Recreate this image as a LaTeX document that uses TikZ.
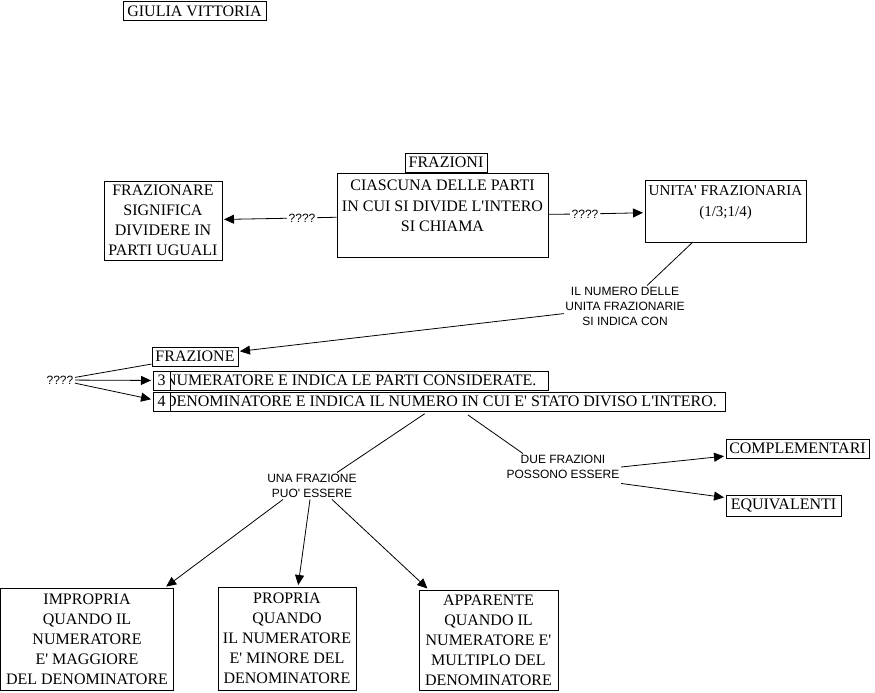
\documentclass[tikz,border=0pt]{standalone}
\usepackage{fontspec}
\setmainfont{Liberation Serif}[Ligatures=TeXOff]
\newfontfamily\arialf{Liberation Sans}
\usetikzlibrary{arrows.meta}
\begin{document}
\begin{tikzpicture}[x=1pt,y=-1pt,
  box/.style={draw=black,line width=1pt,rectangle,inner sep=0pt,align=center,font=\fontsize{16}{20}\selectfont},
  boxtext/.style={inner sep=0pt,align=center,font=\fontsize{16}{20.5}\selectfont},
  longbox/.style={box,inner xsep=1.5pt,anchor=west,minimum height=19pt},
  lbl/.style={inner sep=1.5pt,align=center,font=\arialf\fontsize{12}{15}\selectfont},
  conn/.style={line width=0.8pt},
  arr/.style={conn,-{Triangle[length=10pt,width=9pt]},shorten >=1.5pt}]
\useasboundingbox (0,0) rectangle (875,693);
% boxes
\node[box, minimum width=143pt, minimum height=19pt] (giulia) at (194.5,11.5) {GIULIA VITTORIA};
\node[box, minimum width=82pt, minimum height=19pt] (frazioni) at (446,162.5) {FRAZIONI};
\node[box, minimum width=211pt, minimum height=84pt] (ciascuna) at (442.5,215) {};
\node[boxtext, anchor=north] (ciascunaT) at ([yshift=-7.5pt]ciascuna.north) {CIASCUNA DELLE PARTI\\IN CUI SI DIVIDE L'INTERO\\SI CHIAMA};
\node[box, minimum width=118pt, minimum height=79pt] (frazionare) at (163,220.5) {FRAZIONARE\\SIGNIFICA\\DIVIDERE IN\\PARTI UGUALI};
\node[box, minimum width=161pt, minimum height=62pt] (unita) at (725.5,211) {};
\node[boxtext, anchor=north, font=\fontsize{15}{21}\selectfont] (unitaT) at ([yshift=-5.5pt]unita.north) {UNITA' FRAZIONARIA\\(1/3;1/4)};
\node[box, minimum width=86pt, minimum height=19pt] (frazione) at (195,356.5) {FRAZIONE};
\node[longbox] (num) at (163,380.5) {\makebox[382pt][l]{NUMERATORE E INDICA LE PARTI CONSIDERATE.}};
\node[box, fill=white, minimum width=17pt, minimum height=19pt] (b3) at (161.5,380.5) {3};
\node[longbox] (den) at (163,401.5) {\makebox[559pt][l]{DENOMINATORE E INDICA IL NUMERO IN CUI E' STATO DIVISO L'INTERO.}};
\node[box, fill=white, minimum width=17pt, minimum height=19pt] (b4) at (161.5,401.5) {4};
\node[box, minimum width=143pt, minimum height=19pt] (compl) at (797.5,448.5) {COMPLEMENTARI};
\node[box, minimum width=115pt, minimum height=21pt] (equiv) at (783.5,505.5) {EQUIVALENTI};
\node[box, minimum width=173pt, minimum height=102pt] (impropria) at (87,639) {IMPROPRIA\\QUANDO IL\\NUMERATORE\\E' MAGGIORE\\DEL DENOMINATORE};
\node[box, minimum width=138pt, minimum height=103pt] (propria) at (287,638.5) {PROPRIA\\QUANDO\\IL NUMERATORE\\E' MINORE DEL\\DENOMINATORE};
\node[box, minimum width=139pt, minimum height=100pt] (apparente) at (488.5,640) {APPARENTE\\QUANDO IL\\NUMERATORE E'\\MULTIPLO DEL\\DENOMINATORE};
% linking phrases
\node[lbl] (q1) at (302,218) {????};
\node[lbl] (q2) at (585,214) {????};
\node[lbl] (numl) at (625,306.5) {IL NUMERO DELLE\\UNITA FRAZIONARIE\\SI INDICA CON};
\node[lbl] (q3) at (60,380) {????};
\node[lbl] (una) at (312,486) {UNA FRAZIONE\\PUO' ESSERE};
\node[lbl] (due) at (563,467) {DUE FRAZIONI\\POSSONO ESSERE};
% connectors
\draw[conn] (ciascuna) -- (q1);
\draw[arr] (q1) -- (frazionare);
\draw[conn] (ciascuna) -- (q2);
\draw[arr] (q2) -- (unita);
\draw[conn] (unita) -- (numl);
\draw[arr] (numl) -- (frazione);
\draw[conn] (q3) -- (frazione);
\draw[arr] (q3) -- (b3);
\draw[arr] (q3) -- (b4);
\draw[conn,shorten <=4pt] ([xshift=265pt]den.south west) -- ([xshift=25pt]una.north);
\draw[conn,shorten <=6pt] ([xshift=300pt]den.south west) -- ([xshift=-40pt]due.north);
\draw[arr] (due.east) -- (compl);
\draw[arr] ([yshift=-3pt]due.south east) -- (equiv);
\draw[arr] ([xshift=-29pt]una.south) -- ([xshift=78pt]impropria.north);
\draw[arr] ([xshift=-2pt]una.south) -- ([xshift=11pt]propria.north);
\draw[arr] ([xshift=20pt]una.south) -- ([xshift=-60pt]apparente.north);
\end{tikzpicture}
\end{document}
